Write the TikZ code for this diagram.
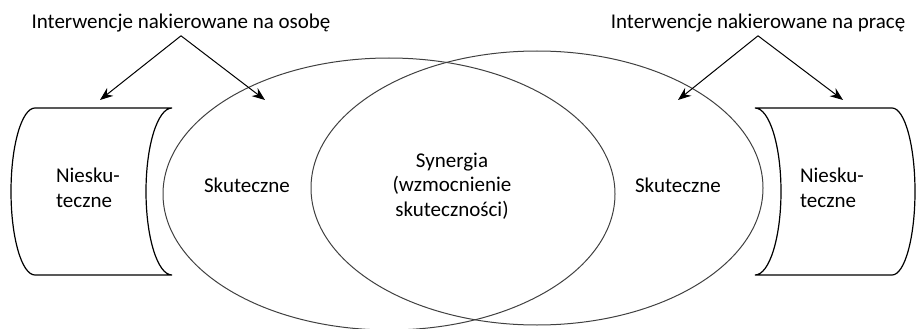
\documentclass[tikz,border=0pt]{standalone}
\usepackage{fontspec}
\setmainfont{Carlito}
\usetikzlibrary{arrows.meta}
\begin{document}
\begin{tikzpicture}[x=1pt,y=-1pt,
  txt/.style={font=\fontsize{21}{24.5}\selectfont, inner sep=3pt},
  venn/.style={draw=black!75, line width=1pt},
  cyl/.style={draw=black, line width=1.2pt},
  arr/.style={draw=black, line width=1pt, -{Stealth[length=13pt,width=10pt]}}]
\useasboundingbox (0,0) rectangle (916,329);
% Venn ellipses
\draw[venn] (389,194) ellipse [x radius=226, y radius=136];
\draw[venn] (537,188) ellipse [x radius=226, y radius=137];
% cylinders
\draw[cyl] (35,108) -- (172,108)
  arc[start angle=270, end angle=90, x radius=26, y radius=83.5]
  -- (35,275)
  arc[start angle=90, end angle=270, x radius=24, y radius=83.5] -- cycle;
\draw[cyl] (755,108) -- (892,108)
  arc[start angle=270, end angle=450, x radius=23, y radius=83.5]
  -- (755,275)
  arc[start angle=90, end angle=-90, x radius=26, y radius=83.5] -- cycle;
% texts
\node[txt, anchor=base] (osoba) at (181,29) {Interwencje nakierowane na osobę};
\node[txt, anchor=base] (praca) at (758,29) {Interwencje nakierowane na pracę};
\node[txt, align=left] (nsL) at (88,188) {Niesku-\\teczne};
\node[txt, align=left] (nsR) at (832,188) {Niesku-\\teczne};
\node[txt] (skL) at (247,185) {Skuteczne};
\node[txt] (skR) at (678,185) {Skuteczne};
\node[txt, align=center] (syn) at (452,186) {Synergia\\(wzmocnienie\\skuteczności)};
% arrow targets
\coordinate (tL1) at (100,100);
\coordinate (tL2) at (265,100);
\coordinate (tR1) at (678,100);
\coordinate (tR2) at (843,100);
\draw[arr] (osoba.south) -- (tL1);
\draw[arr] (osoba.south) -- (tL2);
\draw[arr] (praca.south) -- (tR1);
\draw[arr] (praca.south) -- (tR2);
\end{tikzpicture}
\end{document}
